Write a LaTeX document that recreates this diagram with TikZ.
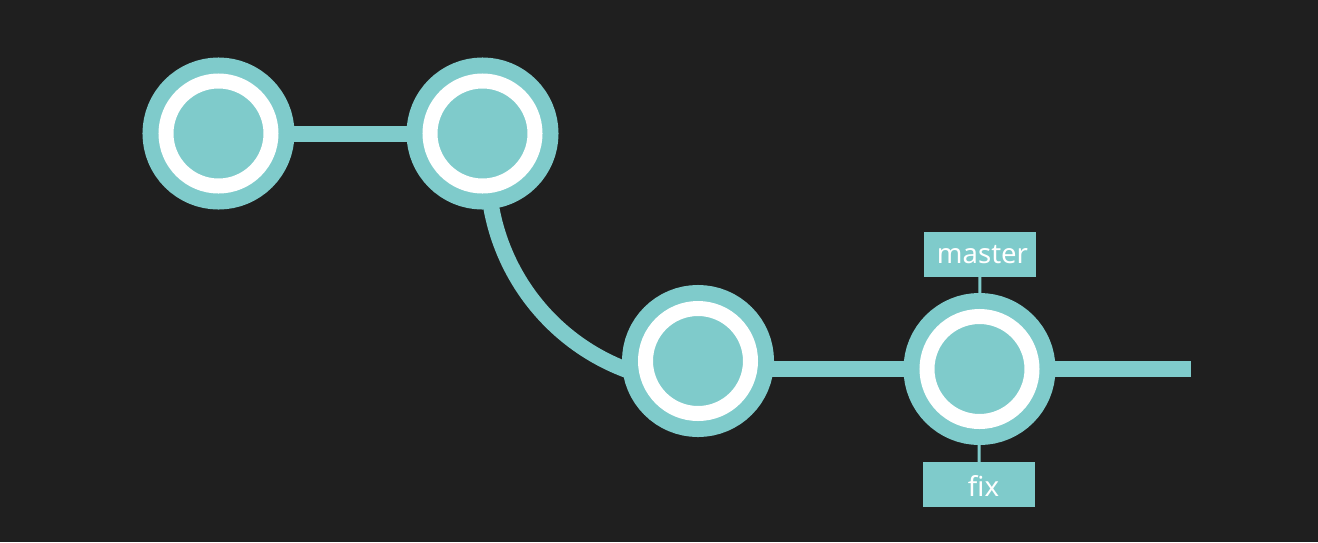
\documentclass[tikz,border=0pt]{standalone}
\usepackage{fontspec}
\setmainfont{Noto Sans}
\definecolor{tealc}{HTML}{7FCBCB}
\definecolor{canvas}{HTML}{1F1F1F}
\pgfdeclarelayer{back}
\pgfsetlayers{back,main}
\begin{document}
\begin{tikzpicture}[x=1pt,y=-1pt,
  commit/.style={circle, minimum size=105pt, inner sep=0pt, fill=tealc,
    draw=tealc, line width=16pt, double=white, double distance=15pt},
  link/.style={draw=tealc, line width=16pt},
  tick/.style={draw=tealc, line width=3pt},
  branch/.style={fill=tealc, text=white, minimum width=112pt,
    minimum height=45pt, inner sep=0pt, text depth=0pt,
    font=\fontsize{27.5}{30}\selectfont}]
\useasboundingbox (0,0) rectangle (1318,542);

% commits
\node[commit] (c1) at (218.5,133.5) {};
\node[commit] (c2) at (482.5,133.5) {};
\node[commit] (c3) at (698,361) {};
\node[commit] (c4) at (979.5,369) {};

% branch labels
\node[branch, text height=17.6pt] (master) at (980,254.5) {\hspace*{5pt}master};
\node[branch, text height=23pt] (fix) at (979,484.5) {\hspace*{9pt}fix};

\coordinate (tail) at (1191,369);

\begin{pgfonlayer}{back}
  \fill[canvas] (0,0) rectangle (1318,542);
  \draw[link] (c1.center) -- (c2.center |- c1.center);
  \draw[link] ([xshift=8.5pt]c2.center) arc[start angle=189.7, end angle=100, radius=214];
  \draw[link] (c3.center |- c4.center) -- (c4.center);
  \draw[link] (c4.center) -- (tail);
  \draw[tick] (master.center) -- (c4.center);
  \draw[tick] (fix.center) -- (c4.center);
\end{pgfonlayer}
\end{tikzpicture}
\end{document}
